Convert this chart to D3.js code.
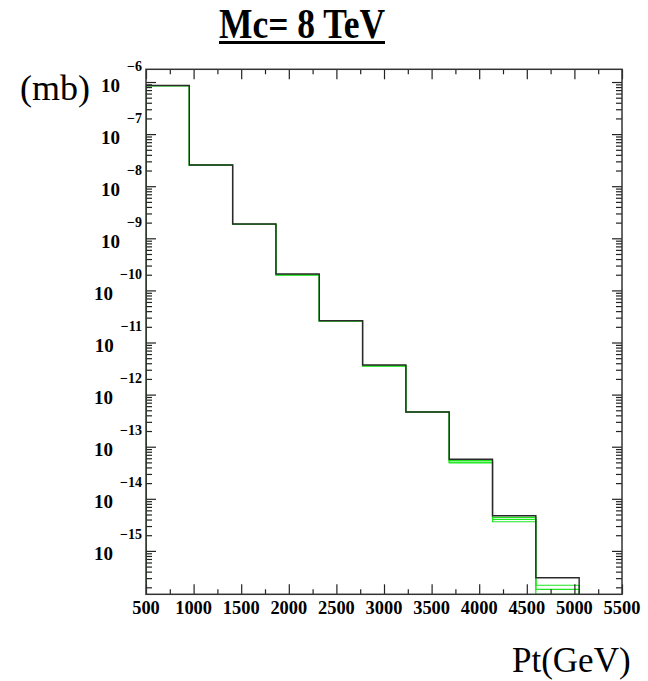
<!DOCTYPE html>
<html>
<head>
<meta charset="utf-8">
<script src="https://cdn.jsdelivr.net/npm/d3@7"></script>
<style>
  body { margin: 0; background: #fff; }
  text { font-family: "Liberation Serif", "Times New Roman", serif; }
</style>
</head>
<body>
<div id="chart"></div>
<script>
// bin edges (GeV) and cross sections (mb)
var binEdges = [500, 955, 1410, 1865, 2320, 2775, 3230, 3685, 4140, 4595, 5050]
var sigma = [8.6e-7, 2.55e-8, 1.88e-9, 2.07e-10, 2.62e-11, 3.70e-12, 4.64e-13, 5.73e-14, 4.74e-15, 3.06e-16]
var sigmaVar1 = [8.5e-7, 2.53e-8, 1.86e-9, 1.98e-10, 2.60e-11, 3.55e-12, 4.60e-13, 5.43e-14, 4.40e-15, 2.19e-16]
var sigmaVar2 = [8.5e-7, 2.53e-8, 1.86e-9, 1.98e-10, 2.60e-11, 3.55e-12, 4.60e-13, 5.08e-14, 4.02e-15, 1.83e-16]
var sigmaVar3 = [8.5e-7, 2.53e-8, 1.86e-9, 1.98e-10, 2.60e-11, 3.55e-12, 4.60e-13, 4.90e-14, 3.63e-15, 0]
var xTicks = [500, 1000, 1500, 2000, 2500, 3000, 3500, 4000, 4500, 5000, 5500]
var yDecades = [-6, -7, -8, -9, -10, -11, -12, -13, -14, -15]

var width = 648
var height = 681
var plotLeft = 146, plotRight = 622, plotTop = 69.3, plotBottom = 594.3

var svg = d3.select('#chart')
    .append('svg')
    .attr('width', width)
    .attr('height', height)

var x = d3.scaleLinear()
    .domain([500, 5500])
    .range([plotLeft, plotRight])

var y = d3.scaleLog()
    .domain([Math.pow(10, -15.833), Math.pow(10, -5.756)])
    .range([plotBottom, plotTop])

var yMin = y.domain()[0]

svg.append('clipPath')
    .attr('id', 'plotClip')
    .append('rect')
    .attr('x', plotLeft)
    .attr('y', plotTop)
    .attr('width', plotRight - plotLeft)
    .attr('height', plotBottom - plotTop)

// histogram outline: up from the floor, steps, back down to the floor
function histPoints(vals) {
    var pts = [[binEdges[0], yMin]]
    vals.forEach(function (v, i) {
        pts.push([binEdges[i], Math.max(v, yMin)])
    })
    pts.push([binEdges[binEdges.length - 1], yMin])
    return pts
}

var step = d3.line()
    .x(function (d) { return x(d[0]) })
    .y(function (d) { return y(d[1]) })
    .curve(d3.curveStepAfter)

var plot = svg.append('g').attr('clip-path', 'url(#plotClip)')

;[sigmaVar1, sigmaVar2, sigmaVar3].forEach(function (s) {
    plot.append('path')
        .attr('d', step(histPoints(s)))
        .attr('fill', 'none')
        .attr('stroke', '#1ee61e')
        .attr('stroke-width', 1.2)
})

plot.append('path')
    .attr('d', step(histPoints(sigma)))
    .attr('fill', 'none')
    .attr('stroke', '#2a2a2a')
    .attr('stroke-width', 1.4)

// axes: bottom / top with inward ticks
var xMinor = d3.range(750, 5500, 500)

svg.append('g')
    .attr('transform', 'translate(0,' + plotBottom + ')')
    .call(d3.axisTop(x).tickValues(xTicks).tickSize(10).tickFormat(''))
svg.append('g')
    .attr('transform', 'translate(0,' + plotBottom + ')')
    .call(d3.axisTop(x).tickValues(xMinor).tickSize(5).tickFormat(''))
svg.append('g')
    .attr('transform', 'translate(0,' + plotTop + ')')
    .call(d3.axisBottom(x).tickValues(xTicks).tickSize(10).tickFormat(''))
svg.append('g')
    .attr('transform', 'translate(0,' + plotTop + ')')
    .call(d3.axisBottom(x).tickValues(xMinor).tickSize(5).tickFormat(''))

// log axes: left / right with inward ticks
var yMajor = yDecades.map(function (e) { return Math.pow(10, e) })
var yMinorTicks = []
for (var e = -16; e <= -6; e++) {
    for (var m = 2; m <= 9; m++) {
        var v = m * Math.pow(10, e)
        if (v >= yMin && v <= y.domain()[1]) yMinorTicks.push(v)
    }
}

svg.append('g')
    .attr('transform', 'translate(' + plotLeft + ',0)')
    .call(d3.axisRight(y).tickValues(yMajor).tickSize(10).tickFormat(''))
svg.append('g')
    .attr('transform', 'translate(' + plotLeft + ',0)')
    .call(d3.axisRight(y).tickValues(yMinorTicks).tickSize(6).tickFormat(''))
svg.append('g')
    .attr('transform', 'translate(' + plotRight + ',0)')
    .call(d3.axisLeft(y).tickValues(yMajor).tickSize(10).tickFormat(''))
svg.append('g')
    .attr('transform', 'translate(' + plotRight + ',0)')
    .call(d3.axisLeft(y).tickValues(yMinorTicks).tickSize(6).tickFormat(''))

svg.selectAll('.domain').remove()
svg.selectAll('.tick line').attr('stroke', '#222').attr('stroke-width', 1.2)

svg.append('rect')
    .attr('x', plotLeft)
    .attr('y', plotTop)
    .attr('width', plotRight - plotLeft)
    .attr('height', plotBottom - plotTop)
    .attr('fill', 'none')
    .attr('stroke', '#333')
    .attr('stroke-width', 1.5)

// tick labels
svg.append('g').selectAll('text')
    .data(xTicks)
    .enter()
    .append('text')
    .attr('x', function (d) { return x(d) })
    .attr('y', 614)
    .attr('text-anchor', 'middle')
    .attr('font-size', 19)
    .attr('font-weight', 'bold')
    .attr('textLength', function (d) { return String(d).length * 9.2 })
    .attr('lengthAdjust', 'spacingAndGlyphs')
    .text(function (d) { return d })

var yLab = svg.append('g').selectAll('text')
    .data(yDecades)
    .enter()
    .append('text')
    .attr('x', 142)
    .attr('y', function (d) { return y(Math.pow(10, d)) + 9.5 })
    .attr('text-anchor', 'end')
    .attr('font-weight', 'bold')
    .attr('font-size', 19)
yLab.append('tspan').text('10')
yLab.append('tspan')
    .attr('dx', 7)
    .attr('dy', -21)
    .attr('font-size', 14)
    .text(function (d) { return '\u2212' + (-d) })

// titles
svg.append('text')
    .attr('x', 219)
    .attr('y', 38)
    .attr('font-size', 43)
    .attr('font-weight', 'bold')
    .attr('textLength', 166)
    .attr('lengthAdjust', 'spacingAndGlyphs')
    .text('Mc= 8 TeV')
svg.append('rect')
    .attr('x', 219)
    .attr('y', 41)
    .attr('width', 166)
    .attr('height', 3)
    .attr('fill', '#000')

svg.append('text')
    .attr('x', 20)
    .attr('y', 100)
    .attr('font-size', 36)
    .text('(mb)')

svg.append('text')
    .attr('x', 512)
    .attr('y', 672)
    .attr('font-size', 35)
    .text('Pt(GeV)')
</script>
</body>
</html>
